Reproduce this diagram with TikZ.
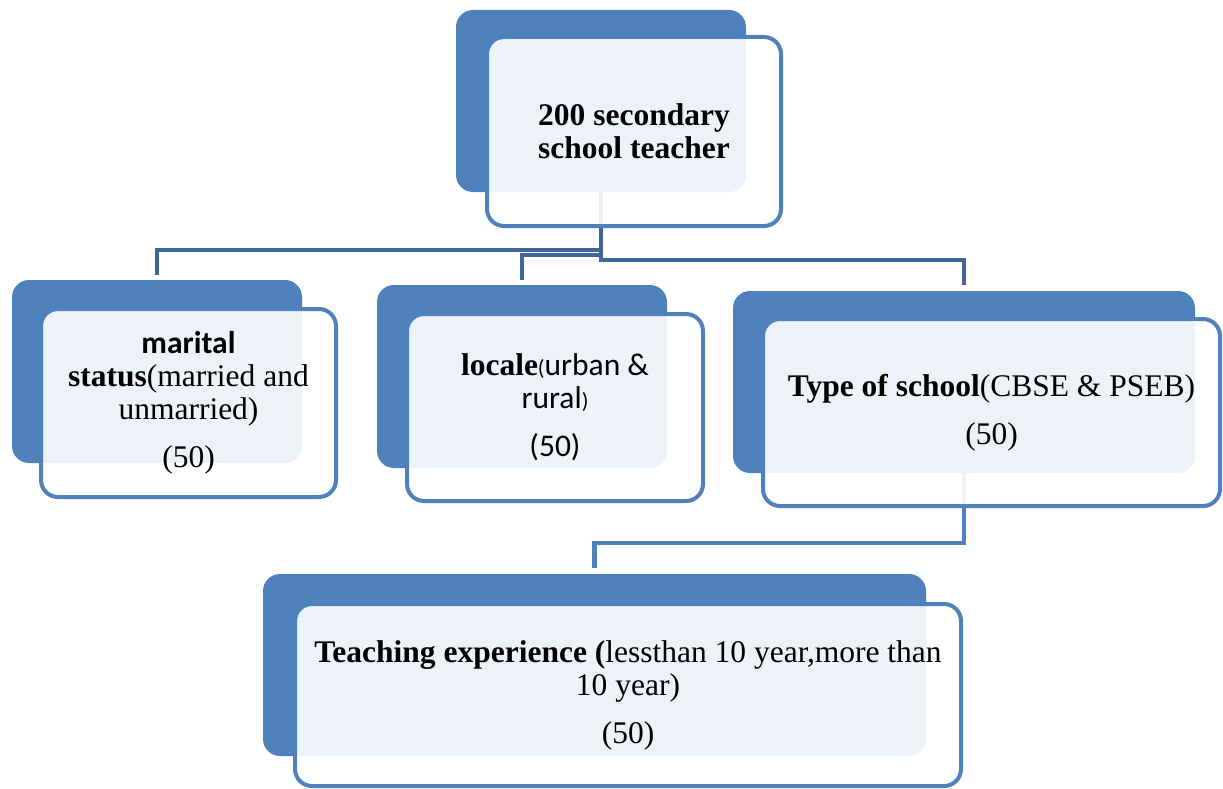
\documentclass[tikz,border=0pt]{standalone}
\usepackage{fontspec}
\setmainfont{Liberation Serif}
\newfontfamily\calibri{Carlito}
\definecolor{boxblue}{RGB}{79,129,189}
\definecolor{linkblue}{RGB}{62,102,152}

\begin{document}
\begin{tikzpicture}[x=1pt, y=-1pt,
    back/.style = {fill=boxblue, rounded corners=17pt, inner sep=0pt},
    front/.style = {draw=boxblue, line width=4pt, fill=white, fill opacity=0.9,
      text opacity=1, rounded corners=17pt, inner sep=0pt, align=center,
      font=\fontsize{31.5}{33}\selectfont},
    link/.style = {draw=linkblue, line width=4.5pt}]

  \useasboundingbox (0,0) rectangle (1223,789);

  % back blocks
  \node[back, minimum width=290pt, minimum height=182pt] (rootback) at (601,101) {};
  \node[back, minimum width=290pt, minimum height=183pt] (maritalback) at (157,371.5) {};
  \node[back, minimum width=290pt, minimum height=183pt] (localeback) at (522,376.5) {};
  \node[back, minimum width=462pt, minimum height=182pt] (typeback) at (964,382) {};
  \node[back, minimum width=663pt, minimum height=182pt] (teachback) at (594.5,665) {};

  % connectors
  \draw[link] (rootback.south) -- ++(0,58) -| ([yshift=5pt]maritalback.north);
  \draw[link] (rootback.south) -- ++(0,63) -| ([yshift=5pt]localeback.north);
  \draw[link] (rootback.south) -- ++(0,68) -| ([yshift=6pt]typeback.north);
  \draw[link, draw=boxblue] (typeback.south) -- ++(0,70) -| ([yshift=6pt]teachback.north);

  % front blocks with text
  \node[front, minimum width=294pt, minimum height=189pt] (root) at (634,131.5)
    {\bfseries 200 secondary\\\bfseries school teacher};
  \node[front, minimum width=295pt, minimum height=188pt] (marital) at (188.5,403)
    {{\calibri\bfseries marital}\\{\bfseries status}(married and\\unmarried)\\[15pt](50)};
  \node[front, minimum width=296pt, minimum height=187pt] (locale) at (555,407.5)
    {{\bfseries locale}{\calibri{\fontsize{22}{22}\selectfont(}urban \&}\\{\calibri rural{\fontsize{22}{22}\selectfont)}}\\[15pt]{\calibri (50)}};
  \node[front, minimum width=457pt, minimum height=187pt] (type) at (991.5,412.5)
    {{\bfseries Type of school}(CBSE \& PSEB)\\[15pt](50)};
  \node[front, minimum width=666pt, minimum height=182pt] (teach) at (628,695)
    {{\bfseries Teaching experience (}lessthan 10 year,more than\\10 year)\\[15pt](50)};
\end{tikzpicture}
\end{document}
